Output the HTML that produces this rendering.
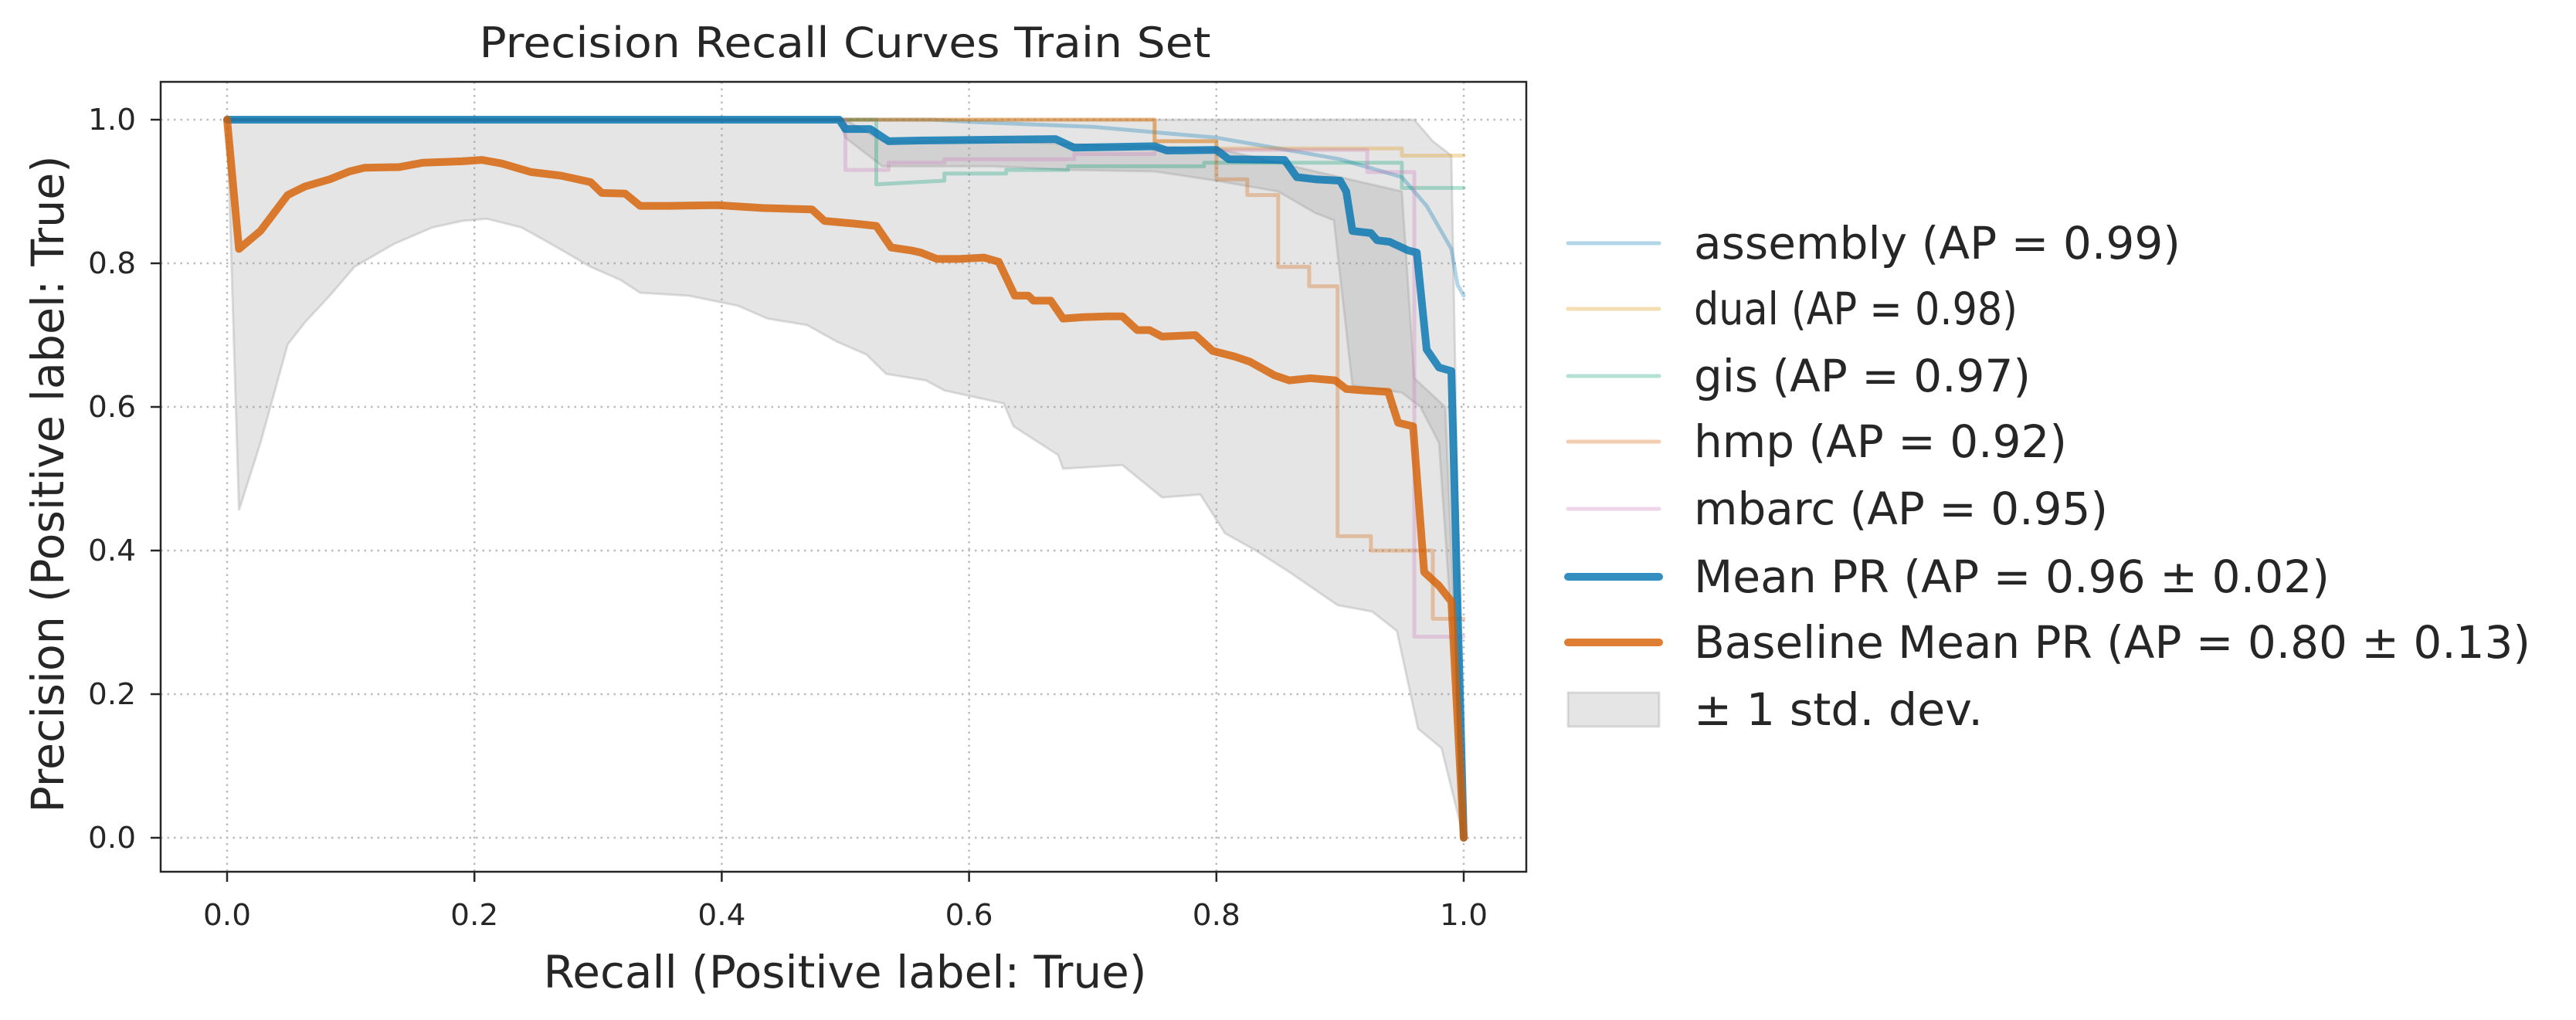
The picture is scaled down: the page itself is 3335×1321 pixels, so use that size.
<!DOCTYPE html>
<html><head><meta charset="utf-8"><style>
html,body{margin:0;padding:0;background:#fff;}
svg{display:block;font-family:"DejaVu Sans","Liberation Sans",sans-serif;}
</style></head><body>
<svg id="chart" width="3335" height="1321" viewBox="0 0 3335 1321" xmlns="http://www.w3.org/2000/svg">
<rect width="3335" height="1321" fill="#fff"/>
<text x="1094" y="74" font-size="54" fill="#262626" text-anchor="middle" textLength="947" lengthAdjust="spacingAndGlyphs">Precision Recall Curves Train Set</text>
<g id="grid"></g>
<g id="bands"></g>
<g id="curves"></g>
<rect x="208" y="106" width="1768" height="1023" fill="none" stroke="#262626" stroke-width="2.5"/>
<g id="ticks"></g>
<text x="1094" y="1279" font-size="58" fill="#262626" text-anchor="middle" textLength="781" lengthAdjust="spacingAndGlyphs">Recall (Positive label: True)</text>
<text transform="translate(82,627) rotate(-90)" font-size="58" fill="#262626" text-anchor="middle" textLength="851" lengthAdjust="spacingAndGlyphs">Precision (Positive label: True)</text>
<g id="legend"></g>
</svg>
<script>
const xTicks = [0, 0.2, 0.4, 0.6, 0.8, 1.0];
const yTicks = [0, 0.2, 0.4, 0.6, 0.8, 1.0];
const tickLabels = ["0.0", "0.2", "0.4", "0.6", "0.8", "1.0"];

const meanX = [0,0.495,0.5,0.52,0.535,0.56,0.67,0.685,0.75,0.76,0.8,0.81,0.855,0.865,0.88,0.9,0.905,0.91,0.925,0.93,0.94,0.955,0.962,0.97,0.98,0.99,1.0];
const meanY = [1,1,0.987,0.987,0.97,0.971,0.973,0.961,0.963,0.957,0.958,0.945,0.944,0.92,0.917,0.915,0.9,0.845,0.842,0.832,0.83,0.818,0.815,0.68,0.655,0.65,0];

const baseX = [0,0.0096,0.027,0.049,0.063,0.083,0.099,0.111,0.139,0.158,0.19,0.206,0.222,0.246,0.27,0.294,0.303,0.322,0.334,0.357,0.397,0.433,0.473,0.483,0.509,0.525,0.537,0.553,0.561,0.574,0.592,0.612,0.624,0.637,0.648,0.652,0.666,0.676,0.692,0.712,0.724,0.736,0.746,0.756,0.783,0.797,0.815,0.827,0.847,0.859,0.876,0.896,0.905,0.919,0.939,0.947,0.959,0.968,0.98,0.99,1];
const baseY = [1,0.82,0.845,0.895,0.907,0.917,0.928,0.933,0.934,0.94,0.942,0.944,0.939,0.927,0.922,0.913,0.898,0.897,0.88,0.88,0.881,0.877,0.875,0.859,0.855,0.852,0.822,0.818,0.815,0.806,0.806,0.808,0.802,0.755,0.755,0.748,0.748,0.723,0.725,0.726,0.726,0.707,0.707,0.698,0.7,0.678,0.67,0.663,0.644,0.637,0.64,0.637,0.625,0.623,0.621,0.578,0.573,0.37,0.351,0.329,0];

const baseBandX = [0,0.0096,0.027,0.049,0.063,0.083,0.103,0.135,0.166,0.19,0.21,0.238,0.262,0.294,0.318,0.334,0.373,0.413,0.437,0.469,0.493,0.517,0.533,0.565,0.58,0.628,0.636,0.672,0.676,0.724,0.756,0.787,0.807,0.831,0.859,0.898,0.926,0.946,0.963,0.982,1];
const baseBandLow = [1,0.456,0.55,0.687,0.718,0.755,0.795,0.827,0.85,0.859,0.862,0.85,0.827,0.795,0.777,0.759,0.755,0.741,0.723,0.714,0.691,0.673,0.646,0.637,0.623,0.605,0.573,0.533,0.514,0.519,0.474,0.478,0.424,0.401,0.37,0.324,0.315,0.288,0.152,0.125,0];
const baseBandHighX = [0,0.5,0.53,0.62,0.7,0.8,0.85,0.9,0.95,0.96,0.985,1];
const baseBandHigh = [1,1,0.97,0.97,0.965,0.96,0.94,0.92,0.9,0.64,0.6,0];

const meanBandX = [0,0.495,0.5,0.53,0.62,0.68,0.75,0.8,0.85,0.88,0.895,0.91,0.95,0.965,0.98,0.99,1];
const meanBandLow = [1,1,0.975,0.935,0.935,0.93,0.928,0.915,0.9,0.87,0.86,0.63,0.62,0.6,0.55,0.3,0];
const meanBandHighX = [0,0.96,0.975,0.99,1];
const meanBandHigh = [1,1,0.97,0.95,0];

const assemblyX = [0,0.57,0.6,0.7,0.8,0.85,0.9,0.95,0.97,0.98,0.99,0.995,1];
const assemblyY = [1,1,0.997,0.99,0.975,0.96,0.945,0.92,0.88,0.85,0.82,0.77,0.755];
const dualX = [0,0.75,0.75,0.8,0.8,0.95,0.95,1];
const dualY = [1,1,0.97,0.97,0.96,0.96,0.95,0.95];
const gisX = [0,0.525,0.525,0.58,0.58,0.63,0.63,0.68,0.68,0.79,0.79,0.95,0.95,1];
const gisY = [1,1,0.91,0.915,0.925,0.925,0.93,0.93,0.935,0.935,0.94,0.94,0.905,0.905];
const hmpX = [0,0.75,0.75,0.8,0.8,0.825,0.825,0.85,0.85,0.875,0.875,0.898,0.898,0.925,0.925,0.975,0.975,1];
const hmpY = [1,1,0.97,0.97,0.917,0.917,0.895,0.895,0.795,0.795,0.768,0.768,0.42,0.42,0.4,0.4,0.305,0.305];
const mbarcX = [0,0.5,0.5,0.535,0.535,0.58,0.58,0.685,0.685,0.75,0.75,0.922,0.922,0.96,0.96,1];
const mbarcY = [1,1,0.93,0.93,0.94,0.94,0.945,0.945,0.952,0.952,0.958,0.958,0.927,0.927,0.28,0.28];

const legendLabels = ["assembly (AP = 0.99)","dual (AP = 0.98)","gis (AP = 0.97)","hmp (AP = 0.92)","mbarc (AP = 0.95)","Mean PR (AP = 0.96 ± 0.02)","Baseline Mean PR (AP = 0.80 ± 0.13)","± 1 std. dev."];

const NS = "http://www.w3.org/2000/svg";
const X0 = 294, X1 = 1895, Y0 = 1085, Y1 = 155;
function sx(v){ return X0 + v * (X1 - X0); }
function sy(v){ return Y0 - v * (Y0 - Y1); }
function mk(tag, attrs, parent){ const e = document.createElementNS(NS, tag); for (const k in attrs) e.setAttribute(k, attrs[k]); parent.appendChild(e); return e; }
function pts(xs, ys){ return xs.map((x,i)=>sx(x).toFixed(1)+","+sy(ys[i]).toFixed(1)).join(" "); }

const grid = document.getElementById("grid");
const ticks = document.getElementById("ticks");
xTicks.forEach((t,i)=>{
  const g = mk("line",{x1:sx(t),x2:sx(t),y1:106,y2:1129,stroke:"#bbb","stroke-width":2.5,"stroke-dasharray":"2.5,6"},grid);
  
  
  const tk = mk("line",{x1:sx(t),x2:sx(t),y1:1129,y2:1142,stroke:"#262626","stroke-width":2.5},ticks);
  
  
  const tl = mk("text",{x:sx(t),y:1198,"font-size":38,fill:"#262626","text-anchor":"middle",textLength:62,lengthAdjust:"spacingAndGlyphs"},ticks);
  tl.textContent = tickLabels[i];
  
  
});
yTicks.forEach((t,i)=>{
  const g = mk("line",{x1:208,x2:1976,y1:sy(t),y2:sy(t),stroke:"#bbb","stroke-width":2.5,"stroke-dasharray":"2.5,6"},grid);
  
  
  const tk = mk("line",{x1:195,x2:208,y1:sy(t),y2:sy(t),stroke:"#262626","stroke-width":2.5},ticks);
  
  
  const tl = mk("text",{x:176,y:sy(t)+13,"font-size":38,fill:"#262626","text-anchor":"end",textLength:62,lengthAdjust:"spacingAndGlyphs"},ticks);
  tl.textContent = tickLabels[i];
  
  
});

const bands = document.getElementById("bands");
function band(hx, hy, lx, ly, name){
  const p = pts(hx,hy) + " " + pts(lx.slice().reverse(), ly.slice().reverse());
  const e = mk("polygon",{points:p,fill:"rgba(150,150,150,0.25)",stroke:"rgba(150,150,150,0.3)","stroke-width":3},bands);
  
  
}
band(baseBandHighX, baseBandHigh, baseBandX, baseBandLow, 'baseline-std-band');
band(meanBandHighX, meanBandHigh, meanBandX, meanBandLow, 'mean-std-band');

const curves = document.getElementById("curves");
function line(xs, ys, color, w, op, name){
  const e = mk("polyline",{points:pts(xs,ys),fill:"none",stroke:color,"stroke-width":w,"stroke-opacity":op,"stroke-linejoin":"round","stroke-linecap":"round"},curves);
  
  
}
line(assemblyX, assemblyY, "#0173b2", 5, 0.3, 'assembly-curve');
line(dualX, dualY, "#de8f05", 5, 0.3, 'dual-curve');
line(gisX, gisY, "#029e73", 5, 0.3, 'gis-curve');
line(hmpX, hmpY, "#d55e00", 5, 0.3, 'hmp-curve');
line(mbarcX, mbarcY, "#cc78bc", 5, 0.3, 'mbarc-curve');
line(meanX, meanY, "#0173b2", 10, 0.8, 'mean-pr-curve');
line(baseX, baseY, "#d55e00", 10, 0.8, 'baseline-mean-pr-curve');

const legend = document.getElementById("legend");
const legColors = ["#0173b2","#de8f05","#029e73","#d55e00","#cc78bc","#0173b2","#d55e00"];
const legOp = [0.3,0.3,0.3,0.3,0.3,0.8,0.8];
const legW = [5,5,5,5,5,10,10];
const legWidths = [630,419,436,483,536,823,1083,374];
const rowY = [315,400,487,572,659,747,832,919];
legendLabels.forEach((lab,i)=>{
  const y = rowY[i];
  if (i < 7) {
    const l = mk("line",{x1:2030,x2:2148,y1:y,y2:y,stroke:legColors[i],"stroke-opacity":legOp[i],"stroke-width":legW[i],"stroke-linecap":"round"},legend);
    
    
  } else {
    const r = mk("rect",{x:2030,y:y-22,width:118,height:44,fill:"rgba(150,150,150,0.25)",stroke:"rgba(150,150,150,0.3)","stroke-width":3},legend);
    
    
  }
  const t = mk("text",{x:2193,y:y+20,"font-size":58,fill:"#262626",textLength:legWidths[i],lengthAdjust:"spacingAndGlyphs"},legend);
  t.textContent = lab;
  
  
});
</script>
</body></html>
